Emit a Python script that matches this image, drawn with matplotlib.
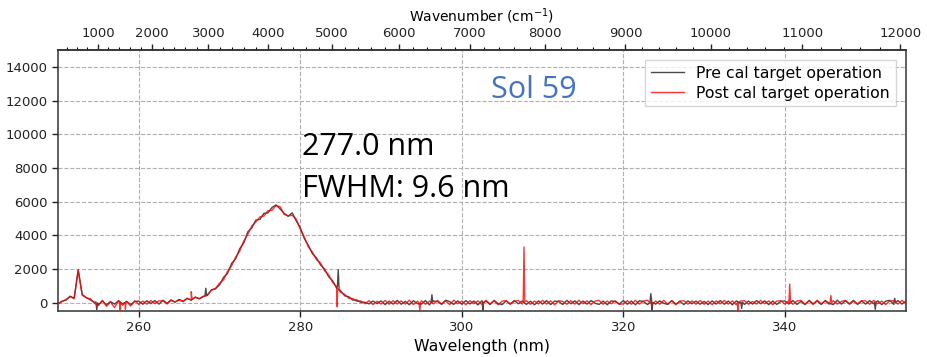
import numpy as np
import matplotlib
matplotlib.use("Agg")
import matplotlib.pyplot as plt
from matplotlib.ticker import MultipleLocator

# ---------------- data ----------------
LASER_NM = 248.6
wl_start, wl_step = 250.0, 0.5

pre_vals = [
    -60, 80, 150, 380, 260, 1950, 480, 300, 160, 20, -120, 90, -130, 60, -90, 110, -80, 70, -120, 60,
    90, -100, 110, -60, 120, -90, 140, -40, 160, 20, 190, 60, 260, 140, 330, 220, 360, 450, 760, 820,
    1050, 1500, 1740, 2330, 2600, 3200, 3540, 4200, 4440, 4900, 4940, 5300, 5330, 5650, 5800, 5560, 5300, 5120, 5330, 4850,
    4450, 3800, 3400, 2900, 2660, 2240, 2000, 1540, 1300, 850, 700, 400, 350, 150, 160, 10, 20, -80, 90, -60,
    100, -120, 80, -90, 130, -100, 70, -130, 110, -60, -90, 120, -140, 90, 60, -100, 140, 60, -110, 100,
    -100, 120, -80, 90, -140, 110, 80, -110, 130, -60, -120, 100, -80, 120, -70, 90, -110, 80, -130, 100,
    -90, 120, -120, 90, 60, -110, 130, -70, 100, -120, 90, -90, 120, -40, -110, 90, -130, 100, 60, -90,
    120, -100, 90, -130, 110, 60, -120, 140, -90, 100, -40, -110, 120, -90, 70, -120, 100, -70, 90, -100,
    70, -120, 100, -90, 120, -100, 90, -130, 100, -40, -110, 90, -90, 120, -70, 100, -120, 90, -110, 70,
    100, -90, 120, -110, 70, -120, 130, -70, 90, -110, 120, -40, -120, 140, -90, 100, -70, 130, -110, 90,
    -90, 120, -70, 100, -120, 90, 130, -110, 120, -90, 100,
]

post_vals = [
    -90, 60, 190, 340, 240, 1900, 440, 280, 230, -40, -180, 140, -220, 40, -300, 120, -160, 60, -200, 110,
    -110, 90, -90, 120, -60, 110, 90, -80, 130, 40, 150, 90, 230, 170, 310, 240, 380, 440, 730, 840,
    1150, 1350, 1860, 2180, 2700, 3050, 3660, 4040, 4560, 4780, 5090, 5140, 5460, 5480, 5760, 5700, 5240, 5160, 5180, 4960,
    4350, 3900, 3300, 3000, 2550, 2360, 1900, 1660, 1200, 950, 610, 490, 260, 240, 70, 100, -70, 110, -120, 80,
    -90, 130, -100, 110, -80, 100, -90, 140, -120, 80, 110, -100, 90, -80, 130, -90, 100, -120, 140, -70,
    90, -130, 110, -70, 100, -120, 140, -90, 100, -130, 90, 110, -100, 70, 130, -90, 110, -100, 90, -80,
    130, -90, 100, -130, 110, 70, -100, 110, -90, 140, -70, 100, -120, 90, 130, -100, 90, -70, 110, -100,
    -80, 110, -100, 130, -90, 100, 140, -120, 90, -100, 130, -90, 100, -130, 90, 110, -90, 100, -100, 130,
    -100, 90, -120, 100, -70, 130, -90, 100, -140, 90, 110, -100, 70, -90, 130, -70, 100, -130, 90, 110,
    -90, 110, -100, 90, 130, -90, 100, -120, 140, -70, 100, -100, 110, -90, 70, 130, -100, 90, -70, 110,
    100, -100, 130, -70, 90, -120, 100, 110, -90, 130, -70,
]

# narrow spikes / dips (explicit points)
pre_spike_wl = [254.7, 254.8, 254.9, 268.2, 268.3, 268.4, 284.6, 284.7, 284.8,
                296.2, 296.3, 296.4, 302.55, 302.6, 302.65, 323.3, 323.4, 323.55, 323.65,
                334.55, 334.65, 334.75, 351.1, 351.2, 351.3, 353.5, 353.6, 353.7]
pre_spike_val = [40, -450, -20, 380, 850, 400, 1000, 1950, 800,
                 20, 470, 30, 0, -480, 10, 20, 530, -480, 10,
                 0, -350, 20, 0, -400, 10, 20, 250, 0]

post_spike_wl = [257.65, 257.7, 257.75, 258.3, 258.35, 258.4, 266.4, 266.5, 266.6,
                 284.52, 284.57, 284.62, 294.7, 294.8, 294.9, 307.6, 307.7, 307.8,
                 334.15, 334.2, 334.25, 340.5, 340.6, 340.7, 345.6, 345.7, 345.8]
post_spike_val = [-50, -450, -20, 0, -400, -30, 170, 650, 190,
                  900, -250, 850, 0, -480, 20, 20, 3300, 40,
                  0, -480, 10, 10, 1100, 30, 20, 420, 0]

labels = ["Pre cal target operation", "Post cal target operation"]
top_ticks = [1000, 2000, 3000, 4000, 5000, 6000, 7000, 8000, 9000, 10000, 11000, 12000]


def merge(base_vals, sp_wl, sp_val):
    wl = np.arange(len(base_vals)) * wl_step + wl_start
    x = np.concatenate([wl, np.array(sp_wl)])
    y = np.concatenate([np.array(base_vals, float), np.array(sp_val, float)])
    order = np.argsort(x, kind="stable")
    return x[order], y[order]


x_pre, y_pre = merge(pre_vals, pre_spike_wl, pre_spike_val)
x_post, y_post = merge(post_vals, post_spike_wl, post_spike_val)

# ---------------- figure ----------------
W, H = 927, 357
fig = plt.figure(figsize=(W / 100, H / 100), dpi=100)
ax = fig.add_axes([58 / W, 1 - 311 / H, (906 - 58) / W, (311 - 50) / H])

ax.plot(x_pre, y_pre, color="#4a4a4a", lw=1.0, label=labels[0], zorder=3)
ax.plot(x_post, y_post, color="red", lw=1.0, alpha=0.8, label=labels[1], zorder=4)

ax.set_xlim(250, 355)
ax.set_ylim(-500, 15000)
ax.xaxis.set_major_locator(MultipleLocator(20))
ax.yaxis.set_major_locator(MultipleLocator(2000))
ax.grid(True, which="major", linestyle="--", color="#b0b0b0", lw=0.8, zorder=0)
ax.tick_params(labelsize=9.5, direction="out", length=4, width=1, colors="#222222")
ax.set_xlabel("Wavelength (nm)", fontsize=11.3, labelpad=3)
for s in ax.spines.values():
    s.set_color("#333333")
    s.set_linewidth(1.1)


def wl2wn(w):
    w = np.asarray(w, float)
    with np.errstate(divide="ignore", invalid="ignore"):
        return 1e7 / LASER_NM - 1e7 / w


def wn2wl(n):
    n = np.asarray(n, float)
    with np.errstate(divide="ignore", invalid="ignore"):
        return 1e7 / (1e7 / LASER_NM - n)


sec = ax.secondary_xaxis("top", functions=(wl2wn, wn2wl))
sec.set_xticks(top_ticks)
sec.xaxis.set_minor_locator(MultipleLocator(200))
sec.tick_params(labelsize=9.5, direction="out", length=4, width=1, colors="#222222")
sec.tick_params(which="minor", length=2, width=0.8)
sec.set_xlabel("Wavenumber (cm$^{-1}$)", fontsize=10, labelpad=4)
sec.spines["top"].set_color("#333333")
sec.spines["top"].set_linewidth(1.1)

leg = ax.legend(loc="upper right", fontsize=11.3, handlelength=2.1, frameon=True,
                fancybox=False, borderpad=0.35, labelspacing=0.3,
                bbox_to_anchor=(0.997, 0.99))
leg.get_frame().set_edgecolor("#cccccc")
leg.get_frame().set_linewidth(1.0)

fig.text(302 / W, 1 - 155 / H, "277.0 nm", fontsize=22, family="Open Sans",
         color="black", va="baseline", ha="left")
fig.text(302 / W, 1 - 197 / H, "FWHM: 9.6 nm", fontsize=22, family="Open Sans",
         color="black", va="baseline", ha="left")
fig.text(491 / W, 1 - 98 / H, "Sol 59", fontsize=22, family="Open Sans",
         color="#4472C4", va="baseline", ha="left")

fig.savefig("out.png", dpi=100)
